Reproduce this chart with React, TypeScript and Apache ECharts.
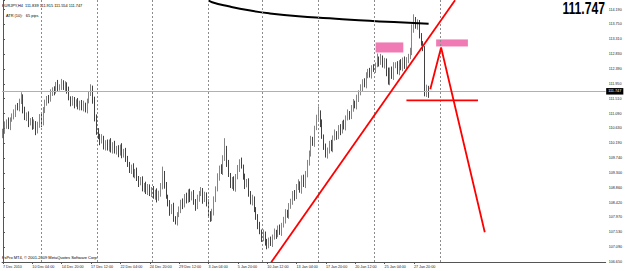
import React, { useEffect, useRef } from "react";
import * as echarts from "echarts";

// ---- data (EURJPY, H4) ----
const firstOpen = 110.45;
const closes = [
  110.55, 110.75, 110.85, 110.70, 110.90, 111.00,
  111.10, 111.30, 111.25, 111.45, 111.60,
  111.20, 110.95, 111.05, 110.80,
  110.90, 110.70, 110.80, 110.55, 110.75,
  111.00, 110.80, 111.20,
  111.40, 111.55, 111.50, 111.70,
  111.80, 111.75, 111.95, 111.85, 111.90, 112.00, 111.85, 111.95, 111.80,
  111.55, 111.40, 111.50,
  111.35, 111.45, 111.30, 111.40, 111.25, 111.35, 111.20, 111.45,
  111.70, 111.85,
  111.50, 111.00, 110.55,
  110.40, 110.25, 110.35, 110.10, 110.20,
  110.05, 110.25, 110.00, 110.15, 109.95,
  110.05, 109.90, 110.10, 109.85, 109.95, 109.75,
  109.55, 109.40, 109.50, 109.25,
  109.35, 109.15, 109.00, 109.10, 108.85, 108.95, 108.75, 108.90, 108.70, 108.80, 108.60, 108.75, 108.55, 108.70, 108.90,
  109.30,
  108.95, 108.60, 108.40, 108.15, 108.30, 107.95, 107.85, 108.05,
  108.20, 108.45, 108.35, 108.60, 108.50, 108.75, 108.55, 108.70, 108.45,
  108.30, 108.55, 108.70, 108.80, 108.50, 108.65, 108.40,
  108.10, 107.95, 108.15,
  108.50, 108.85, 109.20, 109.45, 109.35, 109.75, 110.05,
  109.60, 109.25, 108.95, 109.10, 108.85,
  109.20, 109.45, 109.65, 109.50,
  109.20, 108.95, 109.05, 108.70, 108.45, 108.55,
  108.20, 108.00, 107.75, 107.55,
  107.35, 107.50, 107.25, 107.15, 107.30, 107.20, 107.40,
  107.55, 107.45, 107.65, 107.55, 107.75,
  107.90, 108.15, 108.05, 108.30, 108.45,
  108.70, 108.60, 108.90, 109.00,
  108.80, 109.15, 108.95, 109.30,
  109.60, 109.90, 110.30, 110.20, 110.65, 110.95, 111.10,
  110.80, 110.40, 110.10, 109.85, 109.95, 110.20, 110.05, 110.35,
  110.50, 110.40, 110.65, 110.55, 110.80, 110.70,
  110.95, 111.10, 111.00, 111.25, 111.40, 111.30, 111.55, 111.70,
  111.85, 112.05, 111.95, 112.20, 112.35, 112.25, 112.45, 112.40, 112.55,
  112.70, 112.60, 112.75, 112.55, 112.65,
  112.35, 112.05, 112.40, 112.20, 112.50,
  112.55, 112.35, 112.60, 112.45, 112.70, 112.50, 112.65, 112.80, 112.95,
  113.60, 113.85, 113.70, 113.80,
  113.40, 113.20, 113.05,
  111.70, 111.839, 111.747,
];
const upperWicks = [
  0.08, 0.10, 0.06, 0.12, 0.07, 0.09, 0.11, 0.05, 0.10, 0.08,
  0.12, 0.06, 0.09, 0.07, 0.10, 0.05, 0.08, 0.11, 0.06, 0.09,
  0.07, 0.12, 0.08, 0.10, 0.06, 0.09, 0.11, 0.07, 0.10, 0.08,
  0.14, 0.06, 0.12, 0.08, 0.10, 0.07, 0.09, 0.05, 0.11, 0.08,
  0.06, 0.10, 0.07, 0.09, 0.12, 0.06, 0.08, 0.05, 0.11, 0.07,
  0.09, 0.06, 0.10, 0.08, 0.12, 0.07, 0.09, 0.11, 0.06, 0.10,
  0.08, 0.12, 0.07, 0.09, 0.06, 0.10, 0.08, 0.11, 0.07, 0.09,
  0.06, 0.10, 0.08, 0.12, 0.07, 0.09, 0.11, 0.06, 0.10, 0.08,
  0.07, 0.09, 0.12, 0.06, 0.10, 0.08, 0.11, 0.20, 0.07, 0.09,
  0.06, 0.10, 0.08, 0.12, 0.07, 0.09, 0.11, 0.06, 0.10, 0.08,
  0.12, 0.07, 0.09, 0.06, 0.10, 0.08, 0.11, 0.07, 0.09, 0.06,
  0.10, 0.08, 0.12, 0.07, 0.09, 0.11, 0.06, 0.10, 0.08, 0.12,
  0.09, 0.30, 0.07, 0.10, 0.06, 0.09, 0.11, 0.08, 0.10, 0.07,
  0.12, 0.06, 0.09, 0.08, 0.10, 0.07, 0.11, 0.06, 0.09, 0.08,
  0.10, 0.07, 0.12, 0.06, 0.09, 0.08, 0.11, 0.07, 0.10, 0.06,
  0.09, 0.12, 0.07, 0.10, 0.08, 0.06, 0.11, 0.09, 0.07, 0.10,
  0.08, 0.12, 0.06, 0.09, 0.11, 0.07, 0.10, 0.08, 0.12, 0.09,
  0.07, 0.10, 0.20, 0.08, 0.11, 0.06, 0.09, 0.12, 0.07, 0.10,
  0.08, 0.11, 0.06, 0.09, 0.12, 0.07, 0.10, 0.08, 0.11, 0.06,
  0.09, 0.12, 0.07, 0.10, 0.08, 0.11, 0.06, 0.09, 0.12, 0.07,
  0.10, 0.08, 0.11, 0.06, 0.18, 0.09, 0.12, 0.07, 0.10, 0.08,
  0.11, 0.06, 0.09, 0.12, 0.07, 0.10, 0.08, 0.11, 0.06, 0.09,
  0.12, 0.07, 0.10, 0.15, 0.20, 0.12, 0.10, 0.08, 0.09, 0.05,
  0.05, 0.11, 0.076,
];
const lowerWicks = [
  0.10, 0.07, 0.12, 0.08, 0.11, 0.06, 0.09, 0.12, 0.07, 0.10,
  0.08, 0.11, 0.06, 0.09, 0.12, 0.07, 0.10, 0.08, 0.11, 0.06,
  0.09, 0.12, 0.07, 0.10, 0.08, 0.11, 0.06, 0.09, 0.12, 0.07,
  0.10, 0.08, 0.11, 0.06, 0.09, 0.12, 0.07, 0.10, 0.08, 0.11,
  0.06, 0.09, 0.12, 0.07, 0.10, 0.08, 0.11, 0.06, 0.09, 0.12,
  0.15, 0.10, 0.08, 0.11, 0.06, 0.09, 0.12, 0.07, 0.10, 0.08,
  0.11, 0.06, 0.09, 0.12, 0.07, 0.10, 0.08, 0.11, 0.06, 0.09,
  0.12, 0.07, 0.10, 0.08, 0.11, 0.06, 0.09, 0.12, 0.07, 0.10,
  0.08, 0.11, 0.06, 0.09, 0.12, 0.07, 0.10, 0.08, 0.11, 0.06,
  0.09, 0.12, 0.07, 0.10, 0.08, 0.11, 0.06, 0.09, 0.12, 0.07,
  0.10, 0.08, 0.11, 0.06, 0.09, 0.12, 0.07, 0.10, 0.08, 0.11,
  0.06, 0.09, 0.12, 0.10, 0.08, 0.11, 0.06, 0.09, 0.12, 0.07,
  0.10, 0.08, 0.11, 0.06, 0.09, 0.12, 0.07, 0.10, 0.08, 0.11,
  0.06, 0.09, 0.12, 0.07, 0.10, 0.08, 0.11, 0.06, 0.09, 0.12,
  0.07, 0.10, 0.08, 0.11, 0.12, 0.09, 0.07, 0.10, 0.08, 0.11,
  0.06, 0.09, 0.12, 0.07, 0.10, 0.08, 0.11, 0.06, 0.09, 0.12,
  0.07, 0.10, 0.08, 0.11, 0.06, 0.09, 0.12, 0.07, 0.10, 0.08,
  0.11, 0.06, 0.09, 0.12, 0.07, 0.10, 0.08, 0.11, 0.06, 0.09,
  0.12, 0.07, 0.10, 0.08, 0.11, 0.06, 0.09, 0.12, 0.07, 0.10,
  0.08, 0.11, 0.06, 0.09, 0.12, 0.07, 0.10, 0.08, 0.11, 0.06,
  0.09, 0.12, 0.07, 0.10, 0.08, 0.11, 0.06, 0.09, 0.12, 0.15,
  0.10, 0.12, 0.08, 0.11, 0.06, 0.09, 0.12, 0.07, 0.10, 0.08,
  0.11, 0.06, 0.09, 0.12, 0.10, 0.08, 0.11, 0.07, 0.09, 0.10,
  0.10, 0.12, 0.193,
];

const slotCount = 329;
const xTickIndexes = [0, 16, 32, 48, 64, 80, 96, 112, 128, 144, 160, 176, 192, 208, 224];
const xTickLabels = [
  "7 Dec 2010", "10 Dec 04:00", "14 Dec 20:00", "17 Dec 12:00", "22 Dec 04:00",
  "24 Dec 20:00", "29 Dec 12:00", "3 Jan 04:00", "5 Jan 20:00", "10 Jan 12:00",
  "13 Jan 04:00", "17 Jan 20:00", "20 Jan 12:00", "25 Jan 04:00", "27 Jan 20:00",
];
const yTickLabels = [
  "106.650", "107.090", "107.530", "107.970", "108.420", "108.860", "109.300", "109.740", "110.190",
  "110.630", "111.090", "111.510", "111.950", "112.390", "112.830", "113.310", "113.750", "114.190",
];
const yMin = 106.65;
const yStep = 0.44353;
const yMax = 114.478;
const lastPrice = 111.747;
const headerText = "EURJPY,H4  111.839 111.915 111.554 111.747";
const atrText = "ATR (10):   65 pips";

const maLine = [
  [112, 114.47], [114, 114.41], [123, 114.29], [134, 114.17], [145, 114.08],
  [161, 113.99], [178, 113.93], [194, 113.87], [213, 113.82], [232, 113.77],
];
const trendLine = [[146.2, 106.64], [246.4, 114.47]];
const supportLine = [[219.9, 111.48], [258.9, 111.48]];
const projectionLine = [[232.9, 111.81], [238.8, 113.06], [262.6, 107.54]];
const zones = [
  [[203.1, 113.21], [218.2, 112.91]],
  [[236.1, 113.30], [253.4, 113.09]],
];
const weekSeparators = [20.9, 51.2, 81.5, 111.9, 141.3, 171.6, 202.3, 238.4];

const FONT = "Liberation Sans";

export default function App() {
  const ref = useRef<HTMLDivElement>(null);
  useEffect(() => {
    if (!ref.current) return;
    const chart = echarts.init(ref.current, undefined, { renderer: "svg" });
    const slots = Array.from({ length: slotCount }, (_, i) => String(i));
    const candles = closes.map((c, i) => {
      const o = i === 0 ? firstOpen : closes[i - 1];
      const hi = Math.max(o, c) + upperWicks[i];
      const lo = Math.min(o, c) - lowerWicks[i];
      return [o, c, lo, hi];
    });
    const isTick = (i: number) => xTickIndexes.indexOf(i) >= 0;
    const redStyle = { color: "#ff0000", width: 1.8 };
    chart.setOption({
      animation: false,
      backgroundColor: "#ffffff",
      textStyle: { fontFamily: FONT },
      grid: { left: 1, right: 17, top: 0, bottom: 9, containLabel: false },
      xAxis: [
        {
          type: "category",
          data: slots,
          boundaryGap: true,
          axisLine: { show: true, lineStyle: { color: "#555", width: 1 } },
          axisTick: { show: true, interval: (i: number) => isTick(i), alignWithLabel: true, length: 2, lineStyle: { color: "#555" } },
          axisLabel: {
            interval: (i: number) => isTick(i),
            formatter: (_v: string, i: number) => xTickLabels[xTickIndexes.indexOf(i)] || "",
            align: "left",
            fontSize: 3.7,
            margin: 2.5,
            color: "#222",
            fontFamily: FONT,
          },
          splitLine: { show: false },
        },
        { type: "value", min: -0.5, max: slotCount - 0.5, show: false },
      ],
      yAxis: {
        type: "value",
        position: "right",
        min: yMin,
        max: yMax,
        interval: yStep,
        scale: true,
        axisLine: { show: true, lineStyle: { color: "#555", width: 1 } },
        axisTick: { show: true, length: 2, lineStyle: { color: "#555" } },
        axisLabel: {
          fontSize: 3.7,
          color: "#222",
          margin: 3,
          fontFamily: FONT,
          formatter: (v: number) => {
            const k = Math.round((v - yMin) / yStep);
            return Math.abs(v - (yMin + k * yStep)) < 0.01 && yTickLabels[k] ? yTickLabels[k] : "";
          },
        },
        splitLine: { show: false },
      },
      series: [
        {
          type: "line",
          xAxisIndex: 1,
          data: [],
          z: 1,
          markLine: {
            silent: true,
            symbol: ["none", "none"],
            label: { show: false },
            lineStyle: { type: [2, 2], color: "#8c8c8c", width: 1 },
            data: weekSeparators.map((v) => ({ xAxis: v })),
          },
        },
        {
          type: "candlestick",
          xAxisIndex: 0,
          data: candles,
          barWidth: 0.9,
          z: 3,
          itemStyle: {
            color: "#c8c8c8",
            color0: "#111111",
            borderColor: "#666666",
            borderColor0: "#111111",
            borderWidth: 0.8,
          },
          markLine: {
            silent: true,
            symbol: ["none", "none"],
            lineStyle: { type: "solid", color: "#b0b0b0", width: 1 },
            label: {
              show: true,
              position: "end",
              distance: 0.5,
              formatter: lastPrice.toFixed(3),
              color: "#ffffff",
              backgroundColor: "#000000",
              padding: [1.5, 2, 1, 2],
              fontSize: 3.8,
              fontFamily: FONT,
            },
            data: [{ yAxis: lastPrice }],
          },
        },
        {
          type: "line",
          xAxisIndex: 1,
          data: maLine,
          smooth: true,
          showSymbol: false,
          z: 4,
          lineStyle: { color: "#000000", width: 2 },
        },
        { type: "line", xAxisIndex: 1, data: trendLine, showSymbol: false, z: 5, lineStyle: redStyle },
        { type: "line", xAxisIndex: 1, data: supportLine, showSymbol: false, z: 5, lineStyle: redStyle },
        { type: "line", xAxisIndex: 1, data: projectionLine, showSymbol: false, z: 5, lineStyle: redStyle },
        {
          type: "line",
          xAxisIndex: 1,
          data: [],
          z: 5,
          markArea: {
            silent: true,
            itemStyle: { color: "#f07ab4" },
            data: zones.map((zn) => [{ coord: zn[0] }, { coord: zn[1] }]),
          },
        },
      ],
      graphic: [
        { type: "text", x: 2, y: 3, style: { text: headerText, fontSize: 3.9, fill: "#000", fontFamily: FONT, textVerticalAlign: "top" } },
        { type: "text", x: 6, y: 13, style: { text: atrText, fontSize: 3.9, fill: "#000", fontFamily: FONT, textVerticalAlign: "top" } },
        {
          type: "text",
          x: 605,
          y: 0.5,
          scaleX: 0.76,
          style: { text: lastPrice.toFixed(3), font: `bold 16px "${FONT}"`, fill: "#000", textAlign: "right", textVerticalAlign: "top" },
        },
        {
          type: "text",
          x: 2,
          y: 255,
          style: { text: "FxPro MT4, © 2001-2009 MetaQuotes Software Corp.", fontSize: 4, fill: "#000", fontFamily: FONT, textVerticalAlign: "top" },
        },
      ],
    });
    return () => chart.dispose();
  }, []);
  return <div ref={ref} style={{ position: "fixed", left: 0, top: 0, width: 625, height: 271 }} />;
}
